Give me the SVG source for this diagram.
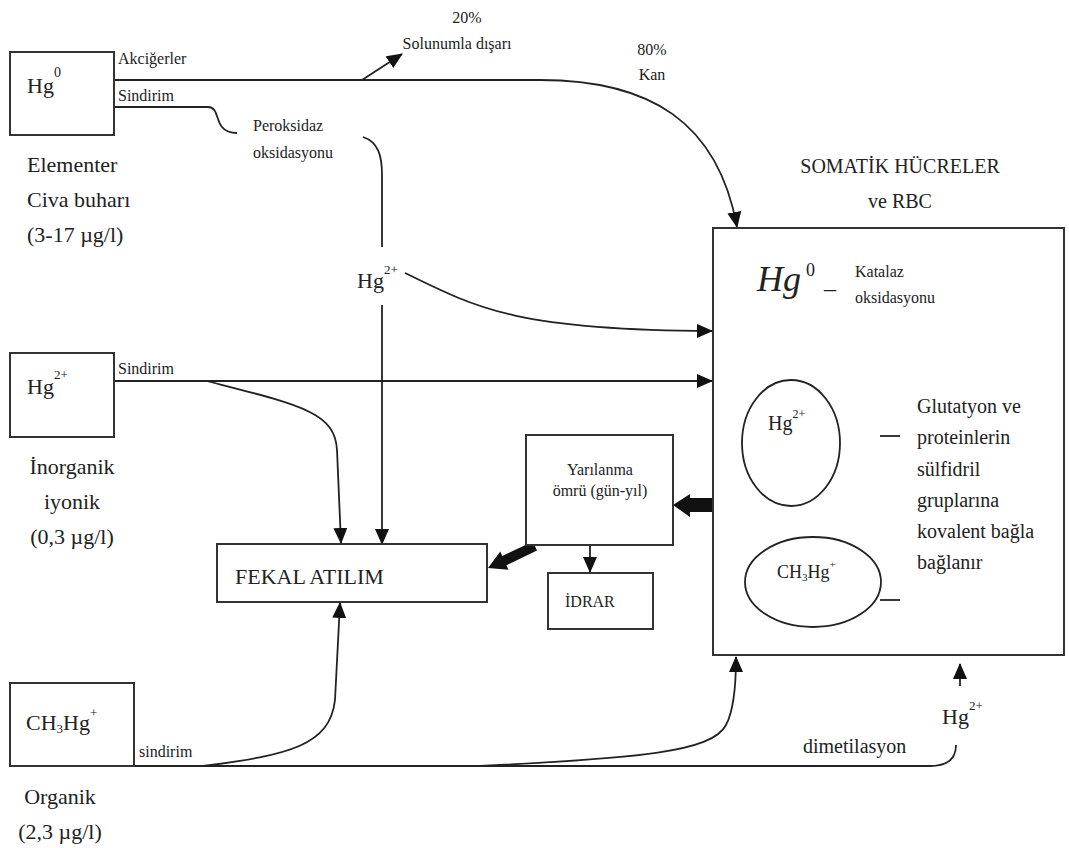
<svg xmlns="http://www.w3.org/2000/svg" width="1069" height="848" viewBox="0 0 1069 848">
<style>
text{font-family:"Liberation Serif","DejaVu Serif",serif;fill:#222;}
.box{fill:#fff;stroke:#333;stroke-width:2;}
.ell{fill:none;stroke:#222;stroke-width:1.8;}
.ln{fill:none;stroke:#222;stroke-width:1.8;}
.arr{fill:none;stroke:#222;stroke-width:1.8;marker-end:url(#ah);}
.thick{fill:#111;stroke:none;}
.s{font-size:16px;}
.m{font-size:20px;}
.l{font-size:22px;}
</style>
<defs>
<marker id="ah" markerUnits="userSpaceOnUse" markerWidth="16" markerHeight="14" refX="15" refY="7" orient="auto">
<path d="M0,0 L16,7 L0,14 z" fill="#111"/>
</marker>
</defs>
<rect width="1069" height="848" fill="#fff"/>

<g id="connectors">
<path class="ln" d="M114,80 L540,80"/>
<path class="arr" d="M540,80 C650,80 718,122 737,227"/>
<path class="arr" d="M362,80 L402,54"/>
<path class="ln" d="M114,107 L208,107 C218,107 216,120 222,127 C226,132 232,133 237,133"/>
<path class="ln" d="M363,137 C378,142 382,155 382,175 L382,247"/>
<path class="arr" d="M382,305 L382,544"/>
<path class="arr" d="M405,273 C480,310 520,330 712,331"/>
<path class="arr" d="M114,381 L712,381"/>
<path class="arr" d="M207,381 C300,405 335,412 337,450 L341,543"/>
<path class="ln" d="M130,766 L930,766 C948,766 956,758 956,745"/>
<path class="arr" d="M203,766 C290,755 330,745 335,700 L340,603"/>
<path class="arr" d="M480,766 C640,758 712,752 726,725 C733,712 736,690 736,657"/>
<path class="arr" d="M960,686 L960,664"/>
<path class="arr" d="M963,322 L834,408"/>
<path class="arr" d="M590,545 L590,572"/>
<polygon class="thick" points="713,498 690,498 690,494 673,505 690,517 690,512 713,512"/>
<polygon class="thick" points="532.9,541.4 502.3,556 500.3,551.5 488,568 508.5,569.7 506.4,565.2 537,550.6"/>
</g>

<g id="hg0-source">
<rect class="box" x="10" y="52" width="104" height="83"/>
<text class="l" x="27" y="93">Hg<tspan font-size="14" dy="-16">0</tspan></text>
<text class="s" x="118" y="64">Akciğerler</text>
<text class="s" x="118" y="101">Sindirim</text>
<text class="l" x="27" y="172">Elementer</text>
<text class="l" x="27" y="207">Civa buharı</text>
<text class="l" x="27" y="242">(3-17 µg/l)</text>
</g>

<g id="exhale-label">
<text class="s" x="467" y="23" text-anchor="middle">20%</text>
<text class="s" x="457" y="49" text-anchor="middle">Solunumla dışarı</text>
<text class="s" x="652" y="55" text-anchor="middle">80%</text>
<text class="s" x="652" y="80" text-anchor="middle">Kan</text>
</g>

<g id="peroksidaz-label">
<text class="s" x="253" y="131">Peroksidaz</text>
<text class="s" x="253" y="158">oksidasyonu</text>
</g>

<g id="hg2-mid-label">
<text class="l" x="357" y="288">Hg<tspan font-size="13" dy="-14">2+</tspan></text>
</g>

<g id="hg2-source">
<rect class="box" x="10" y="353" width="104" height="84"/>
<text class="l" x="27" y="394">Hg<tspan font-size="13" dy="-15">2+</tspan></text>
<text class="s" x="118" y="374">Sindirim</text>
<text class="l" x="72" y="474" text-anchor="middle">İnorganik</text>
<text class="l" x="72" y="509" text-anchor="middle">iyonik</text>
<text class="l" x="72" y="544" text-anchor="middle">(0,3 µg/l)</text>
</g>

<g id="ch3hg-source">
<rect class="box" x="10" y="683" width="124" height="83"/>
<text class="l" x="26" y="730">CH<tspan font-size="13" dy="3">3</tspan><tspan dy="-3">Hg</tspan><tspan font-size="13" dy="-13">+</tspan></text>
<text class="s" x="139" y="757">sindirim</text>
<text class="l" x="60" y="804" text-anchor="middle">Organik</text>
<text class="l" x="60" y="839" text-anchor="middle">(2,3 µg/l)</text>
</g>

<g id="fekal">
<rect class="box" x="217" y="544" width="270" height="58"/>
<text class="l" x="235" y="584">FEKAL ATILIM</text>
</g>

<g id="yarilanma">
<rect class="box" x="526" y="435" width="147" height="110"/>
<text class="s" x="600" y="475" text-anchor="middle">Yarılanma</text>
<text class="s" x="600" y="496" text-anchor="middle">ömrü (gün-yıl)</text>
</g>

<g id="idrar">
<rect class="box" x="548" y="573" width="105" height="56"/>
<text class="s" x="565" y="607">İDRAR</text>
</g>

<g id="somatik">
<text class="m" x="900" y="173" text-anchor="middle">SOMATİK HÜCRELER</text>
<text class="m" x="900" y="208" text-anchor="middle">ve RBC</text>
<rect class="box" x="713" y="228" width="351" height="427"/>
<text x="757" y="291" font-size="36" font-style="italic">Hg</text>
<text x="806" y="276" font-size="18">0</text>
<text x="824" y="296" font-size="24">–</text>
<text class="s" x="855" y="277">Katalaz</text>
<text class="s" x="855" y="303">oksidasyonu</text>
<ellipse class="ell" cx="791" cy="443" rx="49" ry="63"/>
<text class="m" x="768" y="430">Hg<tspan font-size="12" dy="-12">2+</tspan></text>
<ellipse class="ell" cx="813" cy="582" rx="68" ry="45"/>
<text x="777" y="578" font-size="18">CH<tspan font-size="11" dy="3">3</tspan><tspan dy="-3">Hg</tspan><tspan font-size="11" dy="-10">+</tspan></text>
<path class="ln" d="M880,436 L900,436"/>
<path class="ln" d="M880,600 L900,600"/>
<text class="m" x="917" y="413">Glutatyon ve</text>
<text class="m" x="917" y="444">proteinlerin</text>
<text class="m" x="917" y="476">sülfidril</text>
<text class="m" x="917" y="507">gruplarına</text>
<text class="m" x="917" y="538">kovalent bağla</text>
<text class="m" x="917" y="569">bağlanır</text>
</g>

<g id="dimetilasyon">
<text class="m" x="803" y="753">dimetilasyon</text>
<text class="l" x="942" y="724">Hg<tspan font-size="13" dy="-14">2+</tspan></text>
</g>
</svg>
